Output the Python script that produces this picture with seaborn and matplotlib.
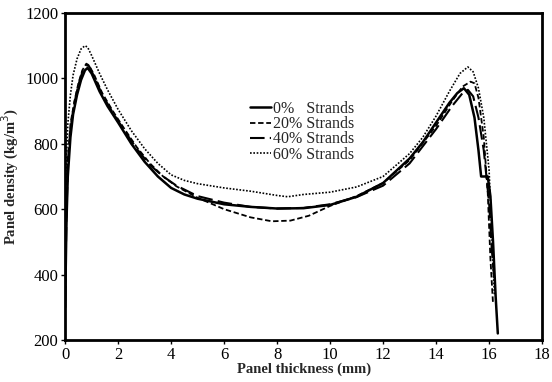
import numpy as np
import pandas as pd
import matplotlib
matplotlib.use('Agg')
import matplotlib.pyplot as plt
import seaborn as sns

# density profiles (x in mm, y in kg/m3)
x_0 = [0.0, 0.05, 0.1, 0.2, 0.3, 0.45, 0.6, 0.75, 0.85, 1.0, 1.3, 1.6, 2.0, 2.5, 3.0, 3.5, 4.0, 4.5,
       5.0, 6.0, 7.0, 8.0, 9.0, 10.0, 11.0, 12.0, 13.0, 13.5, 14.0, 14.5, 14.8, 15.05, 15.25, 15.45,
       15.6, 15.7, 15.95, 16.05, 16.15, 16.25, 16.33]
y_0 = [300, 560, 700, 820, 890, 950, 995, 1025, 1032, 1015, 960, 915, 865, 800, 745, 700, 665, 645,
       632, 615, 607, 602, 603, 613, 638, 680, 755, 805, 865, 925, 955, 970, 950, 880,
       780, 700, 700, 640, 500, 330, 220]

x_20 = [0.0, 0.05, 0.1, 0.2, 0.35, 0.5, 0.65, 0.8, 0.9, 1.1, 1.4, 1.8, 2.2, 2.7, 3.2, 3.7, 4.2, 5.0,
        6.0, 7.0, 7.8, 8.5, 9.2, 10.0, 11.0, 12.0, 13.0, 14.0, 14.6, 15.0, 15.3, 15.45, 15.6, 15.8,
        15.95, 16.05, 16.15]
y_20 = [350, 600, 750, 860, 930, 985, 1025, 1045, 1040, 1010, 955, 900, 850, 790, 740, 700, 670, 635,
        600, 575, 563, 565, 580, 610, 640, 680, 750, 855, 930, 975, 990, 985, 940, 820,
        650, 450, 310]

x_40 = [0.0, 0.05, 0.1, 0.2, 0.35, 0.5, 0.65, 0.8, 0.9, 1.1, 1.4, 1.8, 2.2, 2.7, 3.2, 3.7, 4.2, 5.0,
        6.0, 7.0, 8.0, 9.0, 10.0, 11.0, 12.0, 13.0, 14.0, 14.6, 15.0, 15.2, 15.4, 15.6, 15.8, 16.0,
        16.1, 16.2]
y_40 = [320, 580, 730, 850, 925, 980, 1020, 1040, 1038, 1005, 950, 895, 845, 785, 735, 700, 672, 640,
        620, 607, 602, 604, 615, 637, 672, 740, 845, 915, 955, 965, 945, 880, 780, 620,
        480, 380]

x_60 = [0.0, 0.05, 0.1, 0.2, 0.3, 0.45, 0.6, 0.75, 0.85, 1.0, 1.3, 1.6, 2.0, 2.5, 3.0, 3.5, 4.0, 4.5,
        5.0, 6.0, 7.0, 8.0, 8.4, 9.0, 10.0, 11.0, 12.0, 13.0, 13.5, 14.0, 14.5, 14.9, 15.2, 15.4,
        15.6, 15.8, 16.0, 16.1, 16.2]
y_60 = [450, 760, 860, 950, 1010, 1060, 1090, 1100, 1095, 1070, 1015, 965, 905, 840, 785, 740, 705, 688,
        678, 665, 655, 642, 638, 645, 652, 668, 700, 770, 820, 885, 960, 1015, 1035, 1020,
        970, 880, 720, 530, 340]

labels = ['0%   Strands', '20% Strands', '40% Strands', '60% Strands']

sns.set_style('ticks')
plt.rcParams['font.family'] = ['Liberation Serif', 'DejaVu Serif']

fig, ax = plt.subplots(figsize=(5.52, 3.82), dpi=100)
fig.subplots_adjust(left=0.118, right=0.982, bottom=0.11, top=0.966)

series = [(x_0, y_0, (None, None), 1.8),
          (x_20, y_20, (3, 1.5), 1.3),
          (x_40, y_40, (7, 2.5), 1.5),
          (x_60, y_60, (1, 1), 1.2)]

for (xs, ys, dash, lw), lab in zip(series, labels):
    d = pd.DataFrame({'x': xs, 'y': ys})
    sns.lineplot(data=d, x='x', y='y', sort=False, estimator=None, ax=ax,
                 color='black', lw=lw, label=lab)
    if dash[0] is not None:
        ax.lines[-1].set_dashes(dash)

ax.set_xlim(0, 18)
ax.set_ylim(200, 1200)
ax.set_xticks(range(0, 19, 2))
ax.set_yticks(range(200, 1201, 200))
ax.tick_params(labelsize=12, length=3, width=1, direction='out', colors='black', pad=2)
for s in ax.spines.values():
    s.set_linewidth(2)
    s.set_color('black')
    s.set_visible(True)

ax.set_xlabel('Panel thickness (mm)', fontsize=10.5, fontweight='bold', labelpad=0)
ax.set_ylabel('Panel density (kg/m$^3$)', fontsize=10.5, fontweight='bold', labelpad=3)

ax.legend(loc='upper left', bbox_to_anchor=(0.365, 0.765), frameon=False, fontsize=11.5,
          handlelength=1.3, handletextpad=0.1, labelspacing=-0.05, borderpad=0.2)

fig.savefig('out.png', dpi=100)
